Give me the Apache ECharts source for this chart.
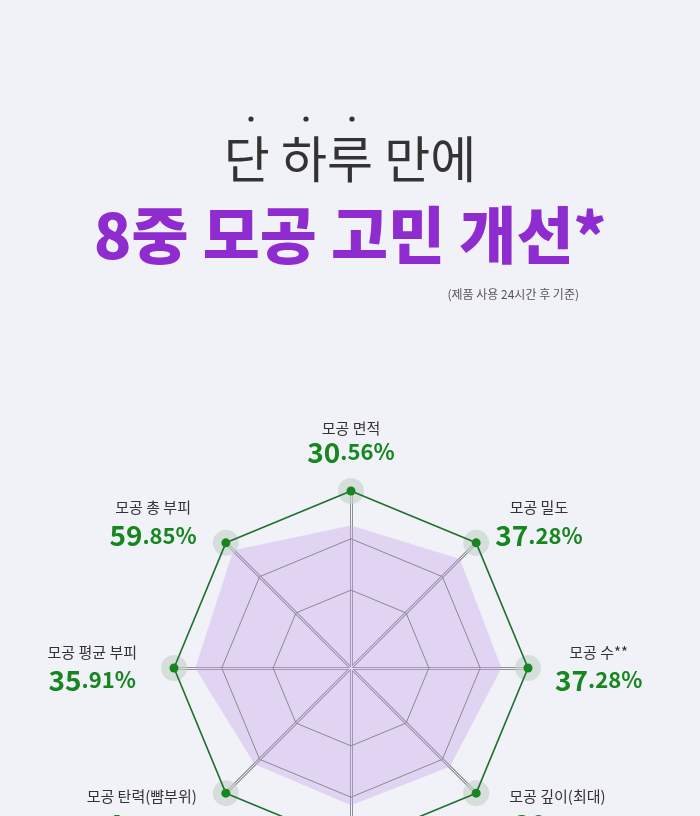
<!DOCTYPE html>
<html>
<head>
<meta charset="utf-8">
<script src="https://cdn.jsdelivr.net/npm/echarts@6/dist/echarts.min.js"></script>
<style>
  html, body { margin: 0; padding: 0; background: #f1f1f8; }
  #main { width: 700px; height: 816px; }
</style>
</head>
<body>
<div id="main"></div>
<script>
var chart = echarts.init(document.getElementById('main'));

// indicators, counter-clockwise from the top (ECharts radar order)
var names = ['모공 면적', '모공 총 부피', '모공 평균 부피', '모공 탄력(뺨부위)', '모공 깊이(평균)', '모공 깊이(최대)', '모공 수**', '모공 밀도'];
var percents = ['30.56%', '59.85%', '35.91%', '4.73%', '28.41%', '30.62%', '37.28%', '37.28%'];
var outerValues = [100, 100, 100, 100, 100, 100, 100, 100];
var areaValues = [80.5, 94, 88, 77, 77.5, 79, 85, 87];
var ringInner = [44, 44, 44, 44, 44, 44, 44, 44];
var ringMid = [73, 73, 73, 73, 73, 73, 73, 73];

var green = '#16861f';
var fontKR = '"Noto Sans CJK KR", "Noto Sans", sans-serif';

var indicators = [];
for (var i = 0; i < names.length; i++) {
    indicators.push({ name: names[i], max: 100, min: 0 });
}

function nameFormatter(name) {
    var idx = names.indexOf(name);
    var p = percents[idx];
    var dot = p.indexOf('.');
    var head = p.substring(0, dot);
    var tail = p.substring(dot);
    if (idx === 0) {
        // top label: tighter number line so it sits closer to the vertex
        return '{n|' + name + '}\n{bt|' + head + '}{st|' + tail + '}';
    }
    if (idx >= 1 && idx <= 3) {
        // left side labels sit a bit further out
        return '{n|' + name + '}{g| }\n{b|' + head + '}{s|' + tail + '}{g| }';
    }
    if (idx === 5) {
        // lower right label pushed outwards
        return '{g2| }{n|' + name + '}\n{g2| }{b|' + head + '}{s|' + tail + '}';
    }
    return '{n|' + name + '}\n{b|' + head + '}{s|' + tail + '}';
}

chart.setOption({
    backgroundColor: '#f1f1f8',
    title: [{
        text: '단 하루 만에',
        left: 'center',
        top: 129,
        textStyle: { fontFamily: fontKR, fontSize: 50, fontWeight: 'normal', color: '#333333' }
    }, {
        text: '8중 모공 고민 개선*',
        left: 'center',
        top: 199,
        textStyle: { fontFamily: fontKR, fontSize: 62, fontWeight: 900, color: '#8e2ccf' }
    }, {
        text: '(제품 사용 24시간 후 기준)',
        right: 116,
        top: 283,
        textStyle: { fontFamily: fontKR, fontSize: 12, fontWeight: 'normal', color: '#555555' }
    }],
    graphic: [
        { type: 'circle', shape: { cx: 251, cy: 119, r: 2.6 }, style: { fill: '#333333' } },
        { type: 'circle', shape: { cx: 306, cy: 119, r: 2.6 }, style: { fill: '#333333' } },
        { type: 'circle', shape: { cx: 352, cy: 119, r: 2.6 }, style: { fill: '#333333' } }
    ],
    radar: [{
        center: [351, 668],
        radius: 177,
        startAngle: 90,
        shape: 'polygon',
        indicator: indicators,
        nameGap: 27,
        axisName: {
            formatter: nameFormatter,
            rich: {
                n: { fontFamily: fontKR, fontSize: 15, color: '#333333', lineHeight: 24, align: 'center' },
                b: { fontFamily: fontKR, fontSize: 28, fontWeight: 'bold', color: green, lineHeight: 32, align: 'center' },
                s: { fontFamily: fontKR, fontSize: 22, fontWeight: 'bold', color: green, lineHeight: 32, align: 'center' },
                bt: { fontFamily: fontKR, fontSize: 28, fontWeight: 'bold', color: green, lineHeight: 24, align: 'center' },
                st: { fontFamily: fontKR, fontSize: 22, fontWeight: 'bold', color: green, lineHeight: 24, align: 'center' },
                g: { width: 10, align: 'center' },
                g2: { width: 14, align: 'center' }
            }
        },
        splitLine: { show: false },
        splitArea: { show: false },
        axisLine: { lineStyle: { color: '#8e8e96', width: 3 } }
    }, {
        center: [351, 668],
        radius: 177,
        startAngle: 90,
        shape: 'polygon',
        indicator: indicators,
        axisName: { show: false },
        splitLine: { show: false },
        splitArea: { show: false },
        axisLine: { lineStyle: { color: '#f4f4f8', width: 1 } }
    }],
    series: [{
        type: 'radar',
        radarIndex: 0,
        symbol: 'none',
        silent: true,
        z: 1,
        data: [{
            value: areaValues,
            lineStyle: { width: 0, opacity: 0 },
            areaStyle: { color: 'rgba(200, 166, 232, 0.55)' }
        }]
    }, {
        type: 'radar',
        radarIndex: 0,
        symbol: 'none',
        silent: true,
        z: 2,
        data: [
            { value: ringInner, lineStyle: { color: '#8a8a92', width: 1 } },
            { value: ringMid, lineStyle: { color: '#8a8a92', width: 1 } }
        ]
    }, {
        type: 'radar',
        radarIndex: 0,
        symbol: 'circle',
        symbolSize: 26,
        silent: true,
        z: 3,
        data: [{
            value: outerValues,
            lineStyle: { opacity: 0 },
            itemStyle: { color: 'rgba(200, 212, 204, 0.65)' }
        }]
    }, {
        type: 'radar',
        radarIndex: 0,
        symbol: 'circle',
        symbolSize: 9,
        silent: true,
        z: 4,
        data: [{
            value: outerValues,
            lineStyle: { color: '#1f6f2e', width: 1.6 },
            itemStyle: { color: green }
        }]
    }]
});
</script>
</body>
</html>
